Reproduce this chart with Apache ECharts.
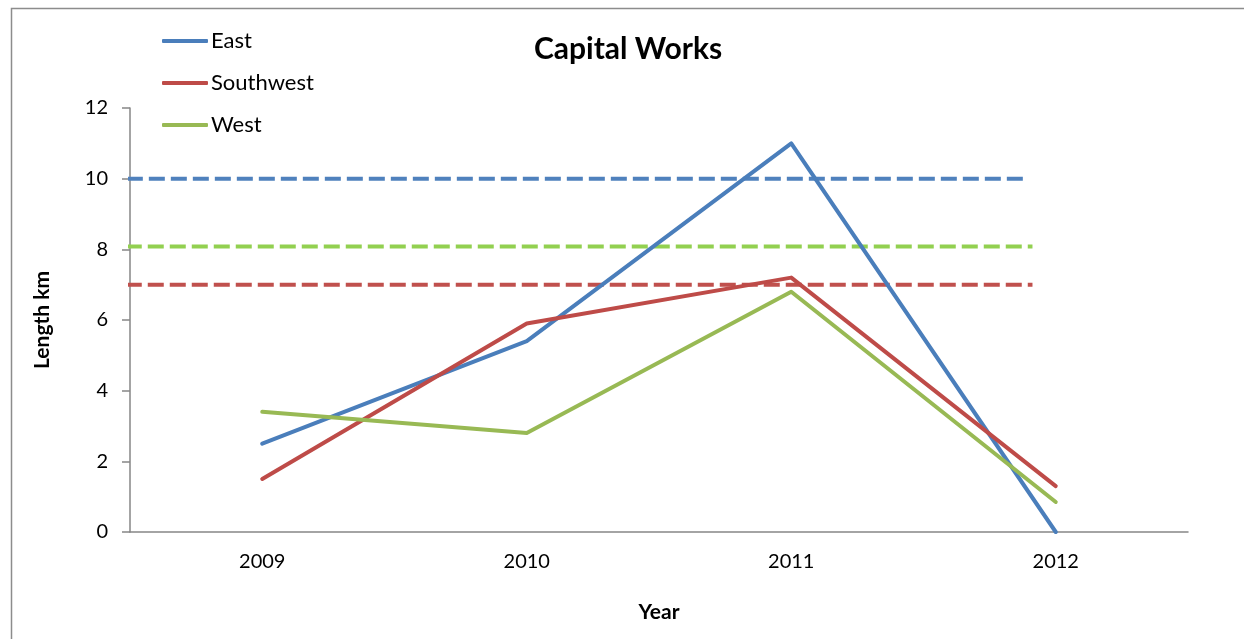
<!DOCTYPE html>
<html>
<head>
<meta charset="utf-8">
<script src="https://cdn.jsdelivr.net/npm/echarts@6/dist/echarts.min.js"></script>
<style>
  html, body { margin: 0; padding: 0; background: #ffffff; }
  #chart { width: 1244px; height: 639px; }
</style>
</head>
<body>
<div id="chart"></div>
<script>
// Yearly capital works length (km) by region
const years = ['2009', '2010', '2011', '2012'];
const east = [2.5, 5.4, 11.0, 0];
const southwest = [1.5, 5.9, 7.2, 1.3];
const west = [3.4, 2.8, 6.8, 0.85];

// Regional target levels (km), drawn as dashed reference lines
const eastTarget = 10;
const southwestTarget = 7;
const westTarget = 8.08;
// Horizontal extent of each target line, as a fraction of the plot width
const eastTargetSpan = [-0.003, 0.846];
const southwestTargetSpan = [-0.004, 0.853];
const westTargetSpan = [-0.004, 0.853];

const yTicks = { min: 0, max: 12, interval: 2 };

const FONT = 'Lato, "Open Sans", sans-serif';
const AXIS_GREY = '#868686';

const chart = echarts.init(document.getElementById('chart'));

function targetSeries(name, value, span, color) {
  return {
    name: name,
    type: 'line',
    xAxisIndex: 1,
    symbol: 'none',
    silent: true,
    z: 1,
    lineStyle: { color: color, width: 4, type: [16, 6] },
    data: span.map(x => [x, value])
  };
}

function regionSeries(name, values, color) {
  return {
    name: name,
    type: 'line',
    symbol: 'none',
    z: 3,
    lineStyle: { color: color, width: 4, cap: 'round', join: 'round' },
    itemStyle: { color: color },
    data: values
  };
}

chart.setOption({
  animation: false,
  backgroundColor: '#ffffff',
  textStyle: { fontFamily: FONT },
  graphic: [{
    type: 'rect',
    left: 9, top: 6,
    shape: { width: 1400, height: 800 },
    style: { fill: 'none', stroke: '#8c8c8c', lineWidth: 1.5 },
    silent: true,
    z: -1
  }],
  title: {
    text: 'Capital Works',
    left: 623, top: 29,
    textAlign: 'center',
    textStyle: { fontFamily: FONT, fontSize: 30, fontWeight: 'bold', color: '#000' }
  },
  legend: {
    data: ['East', 'Southwest', 'West'],
    orient: 'vertical',
    left: 157, top: 24,
    itemGap: 18,
    itemWidth: 46, itemHeight: 4,
    icon: 'roundRect',
    textStyle: { fontFamily: FONT, fontSize: 22, lineHeight: 24, color: '#000', padding: [0, 0, 0, -2] }
  },
  grid: { left: 130, right: 56, top: 108, bottom: 107, containLabel: false },
  xAxis: [{
    type: 'category',
    data: years,
    boundaryGap: true,
    name: 'Year',
    nameLocation: 'middle',
    nameGap: 70,
    nameTextStyle: { fontFamily: FONT, fontSize: 21, fontWeight: 'bold', color: '#000' },
    axisLine: { lineStyle: { color: AXIS_GREY, width: 1.5 } },
    axisTick: { show: false },
    axisLabel: { fontFamily: FONT, fontSize: 20, color: '#000', margin: 20 },
    splitLine: { show: false }
  }, {
    type: 'value',
    min: 0, max: 1,
    show: false
  }],
  yAxis: {
    type: 'value',
    min: yTicks.min, max: yTicks.max, interval: yTicks.interval,
    name: 'Length km',
    nameLocation: 'middle',
    nameRotate: 90,
    nameGap: 77,
    nameTextStyle: { fontFamily: FONT, fontSize: 21, fontWeight: 'bold', color: '#000' },
    axisLine: { show: true, lineStyle: { color: AXIS_GREY, width: 1.5 } },
    axisTick: { show: true, length: 8, lineStyle: { color: AXIS_GREY, width: 1.5 } },
    axisLabel: { fontFamily: FONT, fontSize: 20, color: '#000', margin: 22 },
    splitLine: { show: false }
  },
  series: [
    targetSeries('East target', eastTarget, eastTargetSpan, '#4F81BD'),
    targetSeries('West target', westTarget, westTargetSpan, '#92D050'),
    targetSeries('Southwest target', southwestTarget, southwestTargetSpan, '#C0504D'),
    regionSeries('East', east, '#4A7EBB'),
    regionSeries('Southwest', southwest, '#BE4B48'),
    regionSeries('West', west, '#98B954')
  ]
});
</script>
</body>
</html>
